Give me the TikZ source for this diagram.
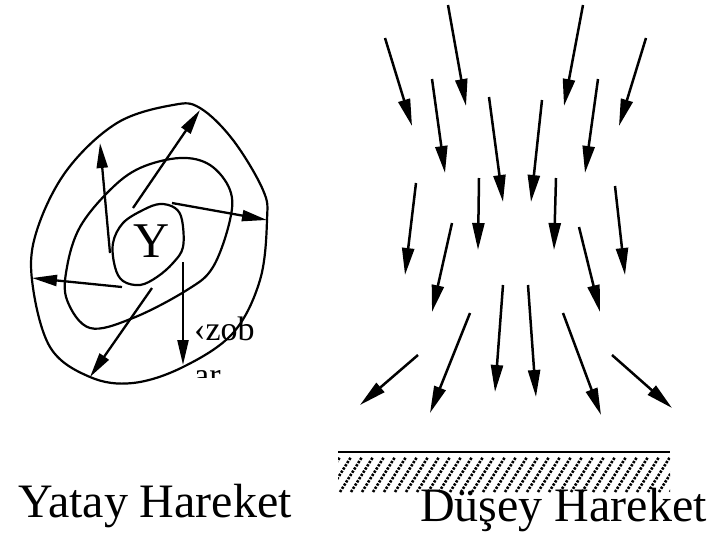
\documentclass[tikz,border=0pt]{standalone}
\usepackage{fontspec}
\setmainfont{Liberation Serif}
\usetikzlibrary{arrows.meta}
\begin{document}
\begin{tikzpicture}[x=1pt,y=-1pt,
  arr/.style={line width=2.3pt,-{Triangle[length=25pt,width=11pt]}},
  darr/.style={line width=2.5pt,-{Triangle[length=27pt,width=12pt]}},
  curve/.style={line width=2.2pt},
  lbl/.style={inner sep=0pt,anchor=base west,font=\fontsize{48}{50}\selectfont},
  small/.style={inner sep=0pt,anchor=base west,font=\fontsize{34}{36}\selectfont},
  hatch/.style={line width=2.6pt,dash pattern=on 2.4pt off 1.4pt}]
\useasboundingbox (0,0) rectangle (709,536);

% ---------- horizontal motion (cyclone) ----------
\draw[curve] plot[smooth cycle,tension=0.6] coordinates {(173,105) (200,108) (233,140) (263,190) (267,220) (260,280) (233,333) (183,367) (133,383) (90,377) (50,347) (32,280) (37,230) (67,170) (117,123)};
\draw[curve] plot[smooth cycle,tension=0.6] coordinates {(180,158) (210,165) (230,190) (230,220) (213,267) (187,290) (133,318) (90,328) (67,300) (67,267) (80,227) (110,190) (140,168)};
\draw[curve] plot[smooth cycle,tension=0.6] coordinates {(160,204) (175,208) (182,220) (183,247) (173,263) (157,277) (140,285) (123,281) (115,267) (113,243) (123,223) (143,210)};

\node[inner sep=0pt,font=\fontsize{50}{52}\selectfont] (Y) at (152,241) {Y};

\coordinate (a1s) at (110,253); \coordinate (a1e) at (100,143);
\coordinate (a2s) at (133,208); \coordinate (a2e) at (200,110);
\coordinate (a3s) at (172,203); \coordinate (a3e) at (267,220);
\coordinate (a4s) at (183,262); \coordinate (a4e) at (183,365);
\coordinate (a5s) at (152,288); \coordinate (a5e) at (90,377);
\coordinate (a6s) at (122,287); \coordinate (a6e) at (32,278);
\foreach \i in {1,...,6} \draw[arr] (a\i s) -- (a\i e);

\node[small] (zob) at (194,340) {‹zob};
\begin{scope}
  \clip (185,368) rectangle (240,377);
  \node[small] (ar) at (194,386) {ar};
\end{scope}

% ---------- vertical motion ----------
\foreach \n/\sx/\sy/\ex/\ey in {
  a/385/38/412/126, b/448/5/466/106, c/583/5/564/106, d/646/38/619/126,
  e/432/79/445/173, f/489/97/503/202, g/542/100/531/202, h/598/79/585/173,
  i/416/183/405/275, j/479/178/478/250, k/556/178/554/250, l/615/186/625/275,
  m/452/223/432/312, n/579/227/600/312,
  o/418/355/360/405, p/470/313/430/413, q/503/285/495/392, r/528/285/536/397,
  s/563/313/601/415, t/612/355/672/408}
{
  \coordinate (\n s) at (\sx,\sy);
  \coordinate (\n e) at (\ex,\ey);
  \draw[darr] (\n s) -- (\n e);
}

% ground
\coordinate (gl) at (338,452); \coordinate (gr) at (670,452);
\draw[line width=1.8pt] (gl) -- (gr);
\begin{scope}
  \clip (338,457) rectangle (670,492);
  \foreach \x in {318,329,...,680} \draw[hatch] (\x,492) -- ++(22,-35);
\end{scope}

% labels
\node[lbl] (yatay) at (18,517) {Yatay Hareket};
\node[lbl] (dusey) at (420,521) {Düşey Hareket};
\end{tikzpicture}
\end{document}
